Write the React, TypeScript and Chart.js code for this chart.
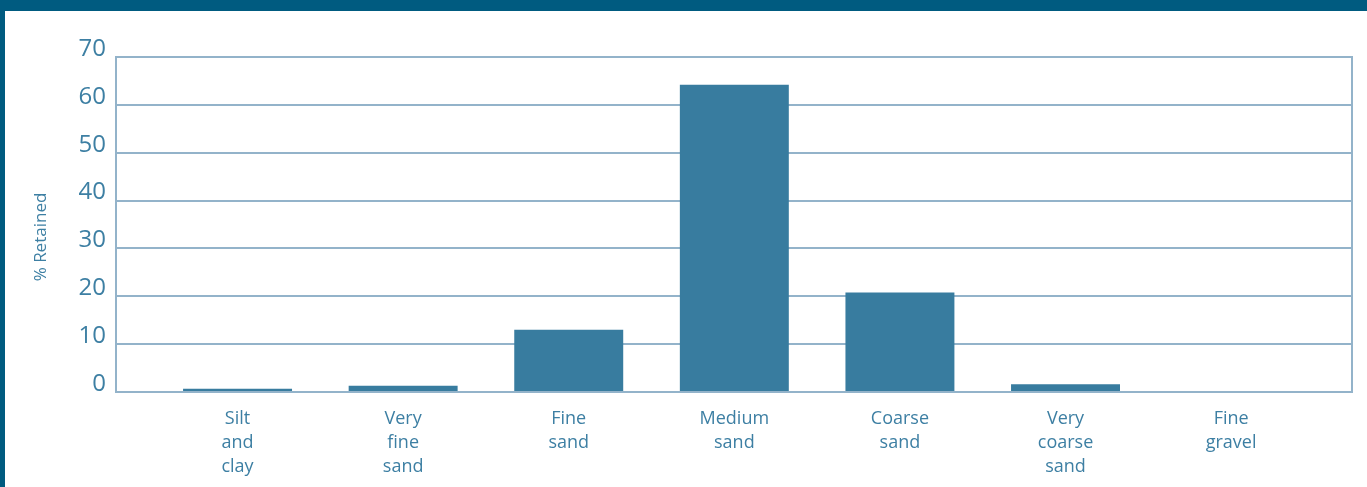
import React, { useEffect, useRef } from "react";
import { Chart, registerables } from "chart.js";

Chart.register(...registerables);

const categories: string[][] = [
  ["Silt", "and", "clay"],
  ["Very", "fine", "sand"],
  ["Fine", "sand"],
  ["Medium", "sand"],
  ["Coarse", "sand"],
  ["Very", "coarse", "sand"],
  ["Fine", "gravel"],
];
const retained: number[] = [0.7, 1.3, 13.0, 64.2, 20.8, 1.6, 0];
const yTicks: number[] = [0, 10, 20, 30, 40, 50, 60, 70];
const yTitle = "% Retained";

const TEXT = "#3d7fa3";
const GRID = "#93b3ca";
const BAR = "#387c9f";
const FRAME = "#005b80";
const FONT = "'Open Sans', 'DejaVu Sans', sans-serif";

export default function App() {
  const ref = useRef<HTMLCanvasElement | null>(null);

  useEffect(() => {
    if (!ref.current) return;
    const decorations = {
      id: "decorations",
      afterDraw(chart: any) {
        const { ctx, chartArea } = chart;
        ctx.save();
        ctx.strokeStyle = GRID;
        ctx.lineWidth = 2;
        ctx.beginPath();
        ctx.moveTo(chartArea.right, chartArea.top - 1);
        ctx.lineTo(chartArea.right, chartArea.bottom + 1);
        ctx.stroke();
        // rotated y-axis title, placed a little below the axis middle as in the reference
        ctx.translate(chartArea.left - 75, chartArea.bottom - 155);
        ctx.rotate(-Math.PI / 2);
        ctx.fillStyle = TEXT;
        ctx.font = `17px ${FONT}`;
        ctx.textAlign = "center";
        ctx.textBaseline = "middle";
        ctx.fillText(yTitle, 0, 0);
        ctx.restore();
      },
    };
    const chart = new Chart(ref.current, {
      type: "bar",
      data: {
        datasets: [
          {
            label: yTitle,
            data: retained.map((v, i) => ({ x: i, y: v })),
            backgroundColor: BAR,
            borderWidth: 0,
            barPercentage: 0.658,
            categoryPercentage: 1,
          },
        ],
      },
      options: {
        animation: false,
        responsive: true,
        maintainAspectRatio: false,
        layout: { padding: { left: 22, top: 46, right: 15, bottom: 0 } },
        plugins: { legend: { display: false }, tooltip: { enabled: false } },
        scales: {
          x: {
            type: "linear",
            offset: false,
            min: -0.734,
            max: 6.73,
            grid: { display: false, drawTicks: false, offset: false },
            border: { display: true, color: GRID, width: 2 },
            afterBuildTicks: (axis: any) => {
              axis.ticks = categories.map((_, i) => ({ value: i }));
            },
            afterFit: (scale: any) => {
              scale.height = 95;
            },
            ticks: {
              autoSkip: false,
              maxRotation: 0,
              minRotation: 0,
              padding: 15,
              color: TEXT,
              font: { family: FONT, size: 18, lineHeight: 1.33 },
              callback: (value: any) => {
                const idx = Math.round(Number(value));
                return categories[idx] ?? "";
              },
            },
          },
          y: {
            type: "linear",
            min: 0,
            max: 70,
            afterBuildTicks: (axis: any) => {
              axis.ticks = yTicks.map((v) => ({ value: v }));
            },
            afterFit: (scale: any) => {
              scale.width = 89;
            },
            grid: { color: GRID, lineWidth: 2, drawTicks: false },
            border: { display: true, color: GRID, width: 2 },
            ticks: {
              color: TEXT,
              padding: 10,
              labelOffset: -8,
              font: { family: FONT, size: 24 },
            },
            title: { display: false },
          },
        },
      },
      plugins: [decorations],
    });
    return () => chart.destroy();
  }, []);

  return (
    <div
      style={{
        position: "absolute",
        left: 0,
        top: 0,
        width: 1367,
        height: 487,
        boxSizing: "border-box",
        borderTop: `11px solid ${FRAME}`,
        borderLeft: `5px solid ${FRAME}`,
        background: "#ffffff",
        overflow: "hidden",
      }}
    >
      <div style={{ position: "relative", width: 1362, height: 476 }}>
        <canvas ref={ref} />
      </div>
    </div>
  );
}
